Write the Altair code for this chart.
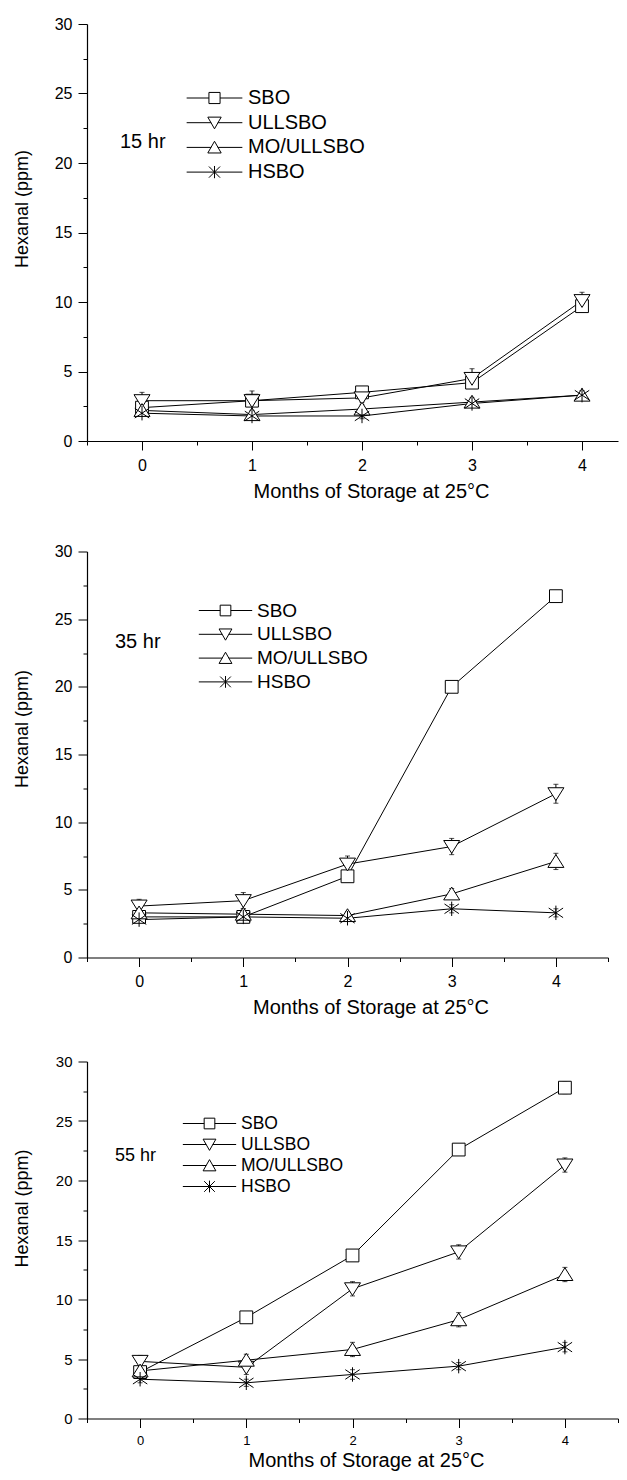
import altair as alt
import pandas as pd

months = [0, 1, 2, 3, 4]
series = ["SBO", "ULLSBO", "MO/ULLSBO", "HSBO"]
panel_labels = ["15 hr", "35 hr", "55 hr"]
x_title = "Months of Storage at 25°C"
y_title = "Hexanal (ppm)"

# ---- 15 hr ----
sbo_15 = [2.4, 2.9, 3.5, 4.2, 9.7]
ullsbo_15 = [2.9, 2.9, 3.1, 4.5, 10.1]
mo_15 = [2.2, 1.9, 2.3, 2.8, 3.3]
hsbo_15 = [2.0, 1.8, 1.8, 2.7, 3.3]
sbo_15_err = [0.2, 0.2, 0.3, 0.3, 0.4]
ullsbo_15_err = [0.6, 0.7, 0.5, 0.7, 0.6]
mo_15_err = [0.2, 0.2, 0.5, 0.3, 0.3]
hsbo_15_err = [0.2, 0.2, 0.2, 0.2, 0.3]

# ---- 35 hr ----
sbo_35 = [3.0, 3.0, 6.0, 20.0, 26.7]
ullsbo_35 = [3.8, 4.2, 6.9, 8.2, 12.1]
mo_35 = [3.3, 3.2, 3.1, 4.7, 7.1]
hsbo_35 = [2.8, 3.0, 2.9, 3.6, 3.3]
sbo_35_err = [0.3, 0.3, 0.4, 0.4, 0.4]
ullsbo_35_err = [0.5, 0.6, 0.6, 0.6, 0.7]
mo_35_err = [0.4, 0.4, 0.3, 0.4, 0.6]
hsbo_35_err = [0.2, 0.2, 0.2, 0.3, 0.3]

# ---- 55 hr ----
sbo_55 = [3.9, 8.5, 13.7, 22.6, 27.8]
ullsbo_55 = [4.8, 4.3, 10.9, 14.0, 21.3]
mo_55 = [4.0, 4.9, 5.8, 8.3, 12.1]
hsbo_55 = [3.3, 3.0, 3.7, 4.4, 6.0]
sbo_55_err = [0.3, 0.3, 0.4, 0.4, 0.5]
ullsbo_55_err = [0.5, 0.6, 0.6, 0.6, 0.6]
mo_55_err = [0.3, 0.5, 0.6, 0.6, 0.6]
hsbo_55_err = [0.3, 0.3, 0.4, 0.3, 0.4]

FONT = "Liberation Sans"

marker_paths = [
    "M-0.8,-0.8H0.8V0.8H-0.8Z",
    "M-1,-0.75H1L0,0.85Z",
    "M0,-0.85L1,0.75H-1Z",
    "M0,-0.9V0.9M-0.9,-0.6L0.9,0.6M-0.9,0.6L0.9,-0.6",
]
legend_paths = [
    "M-1,0H-0.2M-0.2,-0.2H0.2V0.2H-0.2ZM0.2,0H1",
    "M-1,0H-0.12M-0.24,-0.2H0.24L0,0.22ZM0.12,0H1",
    "M-1,0H-0.12M0,-0.22L0.24,0.2H-0.24ZM0.12,0H1",
    "M-1,0H1M0,-0.22V0.22M-0.2,-0.2L0.2,0.2M-0.2,0.2L0.2,-0.2",
]


def make_panel(vals, errs, label, w, h, xmax, xfs, yfs, xtx, xty, yty,
               lx, ly, lsize, lfs, ltfs, llh, loff, lrowpad, ltpad):
    rows = []
    for s, v_list, e_list in zip(series, vals, errs):
        for m, v, e in zip(months, v_list, e_list):
            rows.append({"month": m, "series": s, "value": v,
                         "lo": v - e, "hi": v + e})
    df = pd.DataFrame(rows)
    xvals = [i * 0.5 for i in range(-1, 10) if i * 0.5 <= xmax + 1e-9]
    yvals = [i * 2.5 for i in range(0, 13)]
    xaxis = alt.Axis(
        values=xvals, grid=False, labelOverlap=False, labelFlush=False,
        labelExpr="datum.value % 1 == 0 ? format(datum.value, 'd') : ''",
        tickSize={"condition": {"test": "datum.value % 1 != 0", "value": 4}, "value": 9},
        labelPadding=7, labelFontSize=xfs, title=x_title, titleFontSize=20,
        titleX=xtx, titleY=xty, titleBaseline="middle",
    )
    yaxis = alt.Axis(
        values=yvals, grid=False, labelOverlap=False, labelFlush=False,
        labelExpr="datum.value % 5 == 0 ? format(datum.value, 'd') : ''",
        tickSize={"condition": {"test": "datum.value % 5 != 0", "value": 4}, "value": 9},
        labelPadding=6, labelFontSize=yfs, title=y_title, titleFontSize=18,
        titleX=-65, titleY=yty, titleBaseline="middle",
    )
    xs = alt.Scale(domain=[-0.5, xmax], nice=False, zero=False)
    ys = alt.Scale(domain=[0, 30], nice=False, zero=False)
    base = alt.Chart(df)
    x = alt.X("month:Q", scale=xs, axis=xaxis)
    lines = base.mark_line(color="black", strokeWidth=1).encode(
        x=x, y=alt.Y("value:Q", scale=ys, axis=yaxis), detail="series:N")
    err = base.mark_errorbar(ticks=True, color="black").encode(
        x=x, y=alt.Y("lo:Q", scale=ys, axis=yaxis), y2="hi:Q")
    pts = base.mark_point(filled=True, fill="white", stroke="black",
                          strokeWidth=1, size=256, opacity=1).encode(
        x=x, y=alt.Y("value:Q", scale=ys, axis=yaxis),
        shape=alt.Shape("series:N", scale=alt.Scale(domain=series, range=marker_paths),
                        legend=None))
    leg = base.transform_filter("false").mark_point(
        filled=True, fill="white", stroke="black", strokeWidth=1, opacity=1).encode(
        x=x, y=alt.Y("value:Q", scale=ys, axis=yaxis),
        shape=alt.Shape("series:N", scale=alt.Scale(domain=series, range=legend_paths),
                        legend=alt.Legend(
                            title=label, orient="none", legendX=lx, legendY=ly,
                            direction="vertical", titleOrient="left",
                            titleAnchor="middle", titleBaseline="middle",
                            titleFontSize=ltfs, titleFontWeight="normal",
                            titleLineHeight=llh,
                            titlePadding=ltpad, symbolSize=lsize,
                            symbolStrokeWidth=1, labelFontSize=lfs,
                            labelOffset=loff, clipHeight=14, rowPadding=lrowpad,
                            padding=0, labelLimit=300, titleLimit=300)))
    return alt.layer(lines, err, pts, leg).resolve_scale(shape="independent").properties(
        width=w, height=h)


p1 = make_panel([sbo_15, ullsbo_15, mo_15, hsbo_15],
                [sbo_15_err, ullsbo_15_err, mo_15_err, hsbo_15_err],
                ["", panel_labels[0]], 531, 417, 4.327, 16, 16, 284, 50, 184.5,
                33, 67, 3102, 20, 20, 11, 5, 4.7, 20)
p2 = make_panel([sbo_35, ullsbo_35, mo_35, hsbo_35],
                [sbo_35_err, ullsbo_35_err, mo_35_err, hsbo_35_err],
                [panel_labels[1], ""], 521, 406, 4.5, 16, 16, 283.5, 50, 177,
                28, 52, 2852, 19, 20, 12, 4, 4.8, 37)
p3 = make_panel([sbo_55, ullsbo_55, mo_55, hsbo_55],
                [sbo_55_err, ullsbo_55_err, mo_55_err, hsbo_55_err],
                panel_labels[2], 531, 357, 4.5, 13, 15, 279, 42, 146.6,
                28, 55, 2841, 17.5, 18, 18, 4, 3.0, 25)

chart = alt.vconcat(p1, alt.vconcat(p2, p3, spacing=37), spacing=42.5).properties(
    padding={"left": 5, "top": 8, "right": 0, "bottom": 0}
).configure_view(strokeWidth=0).configure_axis(
    labelFont=FONT, titleFont=FONT, labelColor="black", titleColor="black",
    domainColor="black", tickColor="black", domainWidth=1.2, tickWidth=1,
    titleFontWeight="normal",
).configure_legend(
    labelFont=FONT, titleFont=FONT, labelColor="black", titleColor="black",
)

chart.save("out.html", embed_options={"renderer": "svg", "actions": False})
